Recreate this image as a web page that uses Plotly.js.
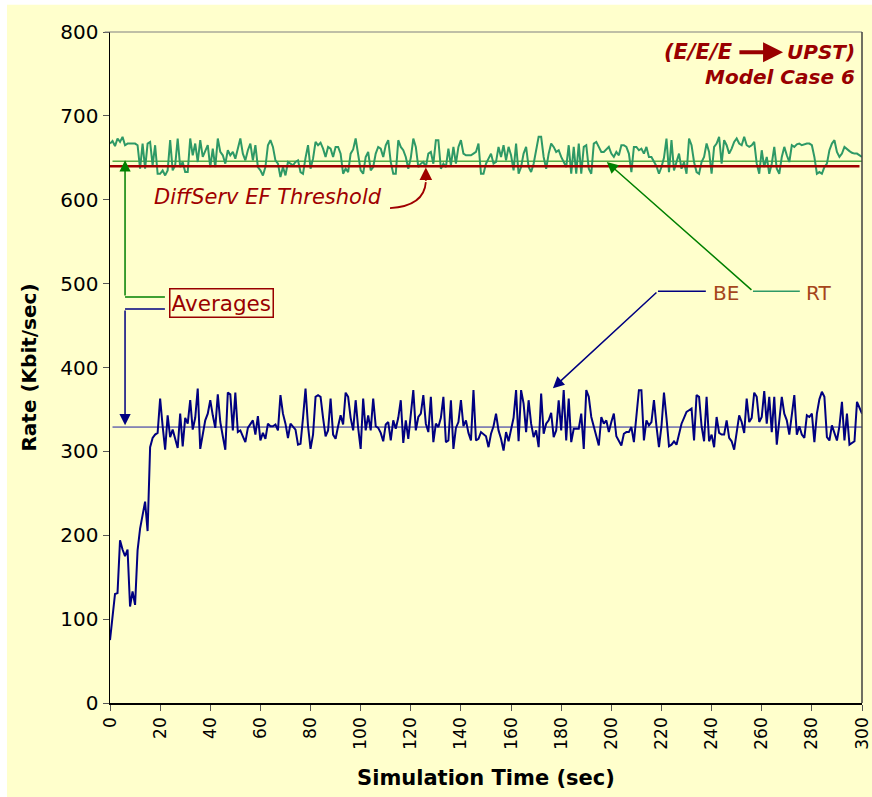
<!DOCTYPE html>
<html>
<head>
<meta charset="utf-8">
<script src="https://cdn.plot.ly/plotly-3.0.1.min.js"></script>
<style>html,body{margin:0;padding:0;background:#fff;}#chart{width:872px;height:797px;}</style>
</head>
<body>
<div id="chart"></div>
<script>
// Simulation time (sec), one sample per second
const timeSec = Array.from({length: 301}, (_, i) => i);

// Best Effort rate (Kbit/sec)
const beRate = [
75,100,130,131,194,183,175,183,115,133,117,182,208,224,240,205,305,316,320,322,
363,330,302,343,317,326,316,304,345,306,340,333,361,326,340,375,303,320,337,345,
361,343,328,368,335,318,302,370,368,325,370,323,325,318,311,328,332,337,320,342,
313,322,315,333,330,330,332,325,367,345,333,316,333,330,326,308,309,340,375,330,
303,320,365,367,365,340,318,325,363,320,315,330,343,332,370,365,340,325,361,328,
303,363,325,343,325,363,330,328,322,312,332,335,313,337,327,340,361,310,337,315,
345,373,325,341,345,367,333,323,365,311,333,329,340,365,311,313,361,303,328,335,
361,330,337,322,313,373,313,315,323,320,318,305,321,330,345,325,315,301,323,312,
325,340,373,312,373,357,323,361,333,317,325,305,369,321,333,337,346,317,325,361,
325,373,313,363,311,327,327,327,345,303,373,365,341,330,319,307,341,333,337,323,
335,345,318,313,307,321,323,323,329,311,340,373,373,313,337,331,335,361,330,305,
330,370,340,306,308,312,308,320,333,340,347,349,351,313,367,365,330,312,365,312,
320,305,341,322,320,320,337,316,312,302,325,343,335,322,363,335,340,370,365,335,
341,372,333,365,323,365,308,340,365,345,337,320,342,367,320,330,320,316,343,341,
345,311,345,362,371,365,317,313,331,323,313,330,359,313,345,308,310,312,359,351,
345
];

// Real Time rate (Kbit/sec)
const rtRate = [
667,670,664,673,669,675,665,667,667,667,667,665,637,667,637,667,669,641,665,631,
631,635,629,635,671,635,641,673,639,645,633,633,673,653,667,645,671,651,659,665,
639,661,639,673,657,653,643,659,653,657,649,663,673,655,647,659,667,647,665,639,
635,629,639,665,671,663,647,643,627,639,629,645,643,641,645,647,633,631,650,665,
637,649,669,665,668,661,651,663,661,651,663,663,655,631,637,633,655,660,673,655,
635,631,651,657,635,639,655,663,661,651,665,671,645,631,631,671,663,659,651,637,
650,673,663,639,643,645,639,655,657,643,671,671,637,643,639,661,641,663,643,663,
671,655,653,653,653,655,657,667,631,631,643,649,655,643,645,663,651,665,647,663,
653,635,667,631,639,655,663,639,633,643,661,675,675,651,637,655,667,663,657,659,
651,645,639,665,631,663,631,667,631,663,665,637,631,667,669,663,657,657,660,663,
655,651,657,653,665,665,663,655,633,663,663,659,661,655,663,651,651,645,640,631,
639,650,673,633,671,635,645,655,637,645,631,673,665,645,633,631,645,651,667,657,
631,663,667,675,643,671,665,655,661,669,673,667,665,675,665,663,665,669,643,631,
659,639,651,631,643,663,637,631,651,663,653,645,665,663,666,667,665,666,667,667,
665,651,631,633,631,639,643,659,667,671,657,651,655,663,660,658,656,655,655,653,
651
];

// Reference levels (Kbit/sec)
const efThreshold = 640;
const rtAverage = 646;
const beAverage = 329;

const xTicks = [0,20,40,60,80,100,120,140,160,180,200,220,240,260,280,300];
const yTicks = [0,100,200,300,400,500,600,700,800];

const FONT = 'DejaVu Sans, Verdana, sans-serif';
const DARKRED = '#990000';
const GREEN = '#008000';
const NAVY = '#000080';
const LABEL = '#A5461B';

const traces = [
  {x: [1, 300], y: [rtAverage, rtAverage], mode: 'lines', line: {color: GREEN, width: 1}, hoverinfo: 'skip'},
  {x: [1, 300], y: [beAverage, beAverage], mode: 'lines', line: {color: '#2020A0', width: 1}, hoverinfo: 'skip'},
  {x: timeSec, y: rtRate, mode: 'lines', name: 'RT', line: {color: '#2E9966', width: 2}},
  {x: timeSec, y: beRate, mode: 'lines', name: 'BE', line: {color: NAVY, width: 2}},
  {x: [0, 299], y: [efThreshold, efThreshold], mode: 'lines', line: {color: '#A00000', width: 2.5}, hoverinfo: 'skip'}
];

function arrow(x, y, ax, ay, color, w, s) {
  return {x: x, y: y, ax: ax, ay: ay, xref: 'x', yref: 'y', axref: 'x', ayref: 'y',
          text: '', showarrow: true, arrowhead: 2, arrowcolor: color,
          arrowwidth: w, arrowsize: s, standoff: 0, startstandoff: 0};
}
function seg(x0, y0, x1, y1, color, w) {
  return {type: 'line', xref: 'x', yref: 'y', x0: x0, y0: y0, x1: x1, y1: y1,
          line: {color: color, width: w}};
}

const layout = {
  width: 872, height: 797,
  margin: {l: 110, r: 10, t: 32, b: 94},
  paper_bgcolor: '#FFFFCC',
  plot_bgcolor: 'rgba(0,0,0,0)',
  showlegend: false,
  font: {family: FONT, color: '#000'},
  xaxis: {
    range: [0, 300], tickvals: xTicks, ticktext: xTicks.map(String), tickangle: -90,
    ticks: 'outside', ticklen: 6, tickcolor: '#555', tickwidth: 1,
    showline: true, linecolor: '#000', linewidth: 1.5, showgrid: false, zeroline: false,
    tickfont: {family: FONT, size: 17, color: '#000'},
    title: {text: '<b>Simulation Time (sec)</b>', font: {family: FONT, size: 21, color: '#000'}, standoff: 21}
  },
  yaxis: {
    range: [0, 800], tickvals: yTicks, ticktext: yTicks.map(String),
    ticks: 'outside', ticklen: 6, tickcolor: '#555', tickwidth: 1,
    showline: true, linecolor: '#000', linewidth: 1.5, showgrid: false, zeroline: false,
    tickfont: {family: FONT, size: 20, color: '#000'},
    title: {text: '<b>Rate (Kbit/sec)</b>', font: {family: FONT, size: 20, color: '#000'}, standoff: 18}
  },
  shapes: [
    {type: 'rect', xref: 'paper', yref: 'paper', x0: -0.2, x1: 1.02, y0: 1.0405, y1: 1.06, fillcolor: '#fff', line: {width: 0}},
    {type: 'rect', xref: 'paper', yref: 'paper', x0: -0.2, x1: -0.137, y0: -0.2, y1: 1.06, fillcolor: '#fff', line: {width: 0}},
    {type: 'line', xref: 'paper', yref: 'paper', x0: -0.007, x1: 1, y0: 1, y1: 1, line: {color: '#808080', width: 1.2}},
    {type: 'line', xref: 'paper', yref: 'paper', x0: 1, x1: 1, y0: 0, y1: 1, line: {color: '#404040', width: 1.5}},
    seg(21.9, 484, 6, 484, GREEN, 1.5),
    seg(21.9, 469.6, 6, 469.6, NAVY, 1.5),
    seg(237.7, 491, 218.6, 491, NAVY, 1.5),
    seg(275.2, 491, 256.5, 491, '#2E9966', 1.5),
    {type: 'path', xref: 'x', yref: 'y', path: 'M 111.7,590 Q 125.3,592.4 126,621', line: {color: '#A00000', width: 1.8}}
  ],
  annotations: [
    arrow(6, 647, 6, 484, GREEN, 1.5, 1.5),
    arrow(6, 331, 6, 469.6, NAVY, 1.5, 1.5),
    arrow(176.7, 375.4, 218.6, 491, NAVY, 1.5, 1.5),
    arrow(198.2, 645, 256.5, 491, GREEN, 1.5, 1.5),
    arrow(126, 638.5, 126, 621, '#A00000', 1.8, 1.4),
    arrow(268.5, 776, 250.5, 776, DARKRED, 4, 1),
    {x: 44.3, y: 477, xref: 'x', yref: 'y', text: 'Averages', showarrow: false,
     font: {family: FONT, size: 21.5, color: DARKRED}, bordercolor: DARKRED, borderwidth: 1.5,
     borderpad: 1, bgcolor: '#FFFFCC'},
    {x: 245.7, y: 489, xref: 'x', yref: 'y', text: 'BE', showarrow: false,
     font: {family: FONT, size: 20, color: LABEL}},
    {x: 282.8, y: 489, xref: 'x', yref: 'y', text: 'RT', showarrow: false,
     font: {family: FONT, size: 20, color: LABEL}},
    {x: 63, y: 603, xref: 'x', yref: 'y', text: '<i>DiffServ EF Threshold</i>', showarrow: false,
     font: {family: FONT, size: 21, color: '#A00000'}},
    {x: 249.3, y: 776, xref: 'x', yref: 'y', xanchor: 'right', text: '<b><i>(E/E/E</i></b>', showarrow: false,
     font: {family: FONT, size: 21, color: DARKRED}},
    {x: 298, y: 776, xref: 'x', yref: 'y', xanchor: 'right', text: '<b><i>UPST)</i></b>', showarrow: false,
     font: {family: FONT, size: 20, color: DARKRED}},
    {x: 298, y: 746.5, xref: 'x', yref: 'y', xanchor: 'right', text: '<b><i>Model Case 6</i></b>', showarrow: false,
     font: {family: FONT, size: 20, color: DARKRED}}
  ]
};

Plotly.newPlot('chart', traces, layout, {displayModeBar: false, staticPlot: true});
</script>
</body>
</html>
